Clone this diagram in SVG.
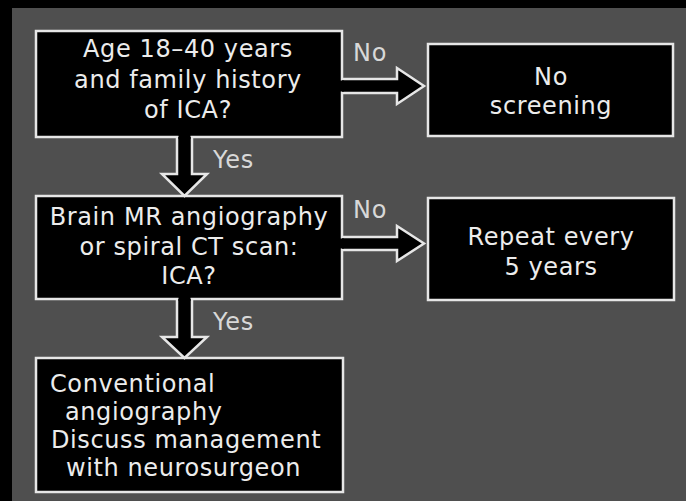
<svg xmlns="http://www.w3.org/2000/svg" width="686" height="501" viewBox="0 0 686 501">
  <style>
    .box { fill: #000000; stroke: #e6e6e6; stroke-width: 2.5; }
    .arrow { fill: #000000; stroke: #e6e6e6; stroke-width: 2.5; stroke-linejoin: miter; }
    .t { font-family: "DejaVu Sans", "Open Sans", sans-serif; font-size: 24px; letter-spacing: 0.6px; fill: #ececec; }
    .c { text-anchor: middle; }
    .lbl { font-family: "DejaVu Sans", "Open Sans", sans-serif; font-size: 24px; letter-spacing: 0.8px; fill: #d8d8d8; }
  </style>
  <rect x="0" y="0" width="686" height="501" fill="#4f4f4f"/>
  <rect x="0" y="0" width="686" height="8" fill="#000000"/>
  <rect x="0" y="0" width="12" height="501" fill="#000000"/>

  <g id="node-age">
    <rect class="box" x="36" y="31" width="306" height="106"/>
    <text class="t c" x="188" y="57">Age 18–40 years</text>
    <text class="t c" x="188" y="88">and family history</text>
    <text class="t c" x="188" y="118">of ICA?</text>
  </g>

  <g id="node-no-screening">
    <rect class="box" x="428" y="44" width="245" height="92"/>
    <text class="t c" x="551" y="85">No</text>
    <text class="t c" x="551" y="114">screening</text>
  </g>

  <g id="node-imaging">
    <rect class="box" x="36" y="196" width="306" height="103"/>
    <text class="t c" x="189" y="225">Brain MR angiography</text>
    <text class="t c" x="189" y="255">or spiral CT scan:</text>
    <text class="t c" x="189" y="284">ICA?</text>
  </g>

  <g id="node-repeat">
    <rect class="box" x="428" y="198" width="246" height="102"/>
    <text class="t c" x="551" y="245">Repeat every</text>
    <text class="t c" x="551" y="275">5 years</text>
  </g>

  <g id="node-conventional">
    <rect class="box" x="36" y="358" width="307" height="134"/>
    <text class="t" x="50" y="392">Conventional</text>
    <text class="t" x="65" y="420">angiography</text>
    <text class="t" x="51" y="448">Discuss management</text>
    <text class="t" x="66" y="476">with neurosurgeon</text>
  </g>

  <g id="connectors">
    <!-- Age -> No screening -->
    <path class="arrow" d="M342,79 L397,79 L397,68 L424,86 L397,104 L397,93 L342,93"/>
    <rect x="340" y="80.5" width="4" height="11" fill="#000000"/>
    <text class="lbl" x="353" y="61">No</text>

    <!-- Age -> Imaging -->
    <path class="arrow" d="M177,137 L177,174 L162,174 L184.5,196 L207,174 L192,174 L192,137"/>
    <rect x="178.5" y="135" width="12" height="4" fill="#000000"/>
    <text class="lbl" x="213" y="168">Yes</text>

    <!-- Imaging -> Repeat -->
    <path class="arrow" d="M342,237 L397,237 L397,226 L424,243.5 L397,261 L397,250 L342,250"/>
    <rect x="340" y="238.5" width="4" height="10" fill="#000000"/>
    <text class="lbl" x="353" y="218">No</text>

    <!-- Imaging -> Conventional -->
    <path class="arrow" d="M177,299 L177,337 L162,337 L184.5,358 L207,337 L192,337 L192,299"/>
    <rect x="178.5" y="297" width="12" height="4" fill="#000000"/>
    <text class="lbl" x="213" y="330">Yes</text>
  </g>
</svg>
